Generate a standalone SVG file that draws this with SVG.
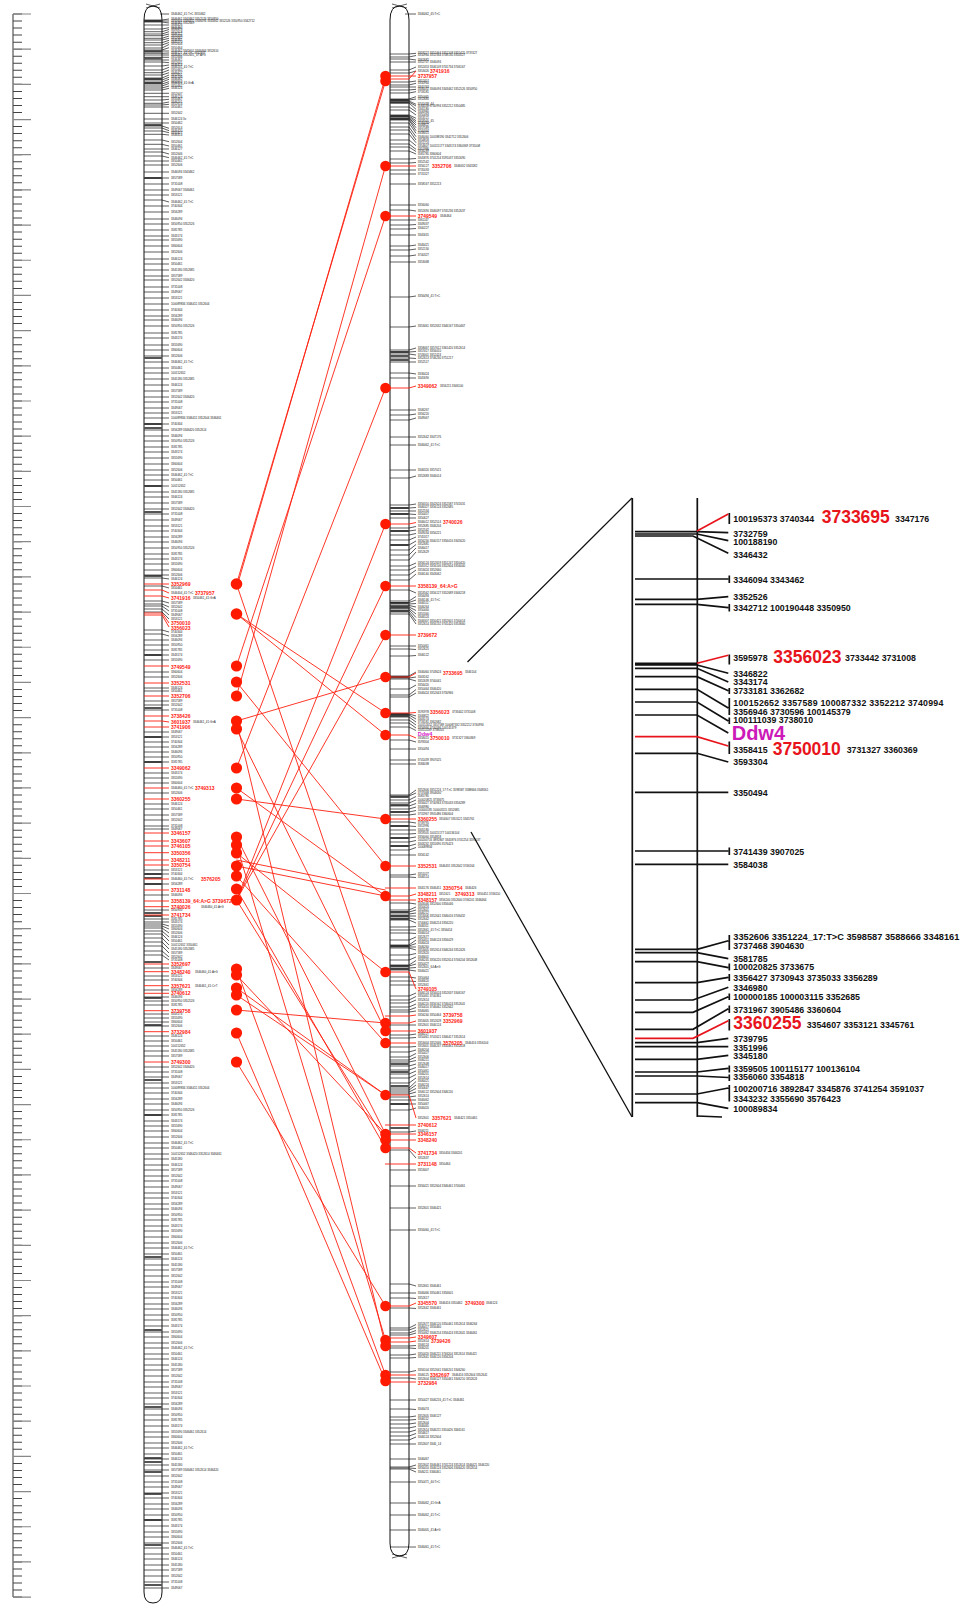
<svg xmlns="http://www.w3.org/2000/svg" width="972" height="1604" viewBox="0 0 972 1604">
<style>
.chr{fill:#fff;stroke:#111;stroke-width:1}
.bk{fill:none;stroke:#1a1a1a;stroke-width:0.7}
.dk{fill:none;stroke:#555;stroke-width:2.2}
.rb{fill:none;stroke:#ff2010;stroke-width:0.9}
.rc{fill:none;stroke:#ff2010;stroke-width:0.9}
.dot{fill:#ff1a00}
.t{font-family:"Liberation Sans",Arial,sans-serif;font-size:2.9px;fill:#1a1a1a}
.r{font-family:"Liberation Sans",Arial,sans-serif;font-size:5px;font-weight:bold;fill:#ff2010}
.pl{fill:none;stroke:#111;stroke-width:1.7}
.pr{fill:none;stroke:#e8141c;stroke-width:1.7}
.pt{font-family:"Liberation Sans",Arial,sans-serif;font-size:8.8px;font-weight:bold;fill:#111}
.pb{font-family:"Liberation Sans",Arial,sans-serif;font-size:17.5px;font-weight:bold;fill:#e8141c}
</style>

<g id="ruler">
<line x1="13" y1="14" x2="13" y2="1597" stroke="#333" stroke-width="1"/>
<line x1="17.5" y1="13.5" x2="17.5" y2="1598" stroke="#444" stroke-width="9" stroke-dasharray="1 6.036"/>
<line x1="22" y1="13.4" x2="22" y2="1598" stroke="#888" stroke-width="18" stroke-dasharray="1.2 33.98"/>
</g>

<g id="chromosome-left">
<path class="chr" d="M144,1592 V20 Q144,6 153,6 Q162,6 162,20 V1592 Q162,1603 153,1603 Q144,1603 144,1592 Z"/>
<path class="bk" d="M146,4 L160,8 M146,8 L160,4"/>
<path class="dk" d="M144 21H162M144 51.5H162M144 58.5H162M144 79H162M144 83H162M144 125H162M144 178H162M144 358H162M144 424H162M144 428H162M144 486H162M144 512H162M144 576H162M144 655H162M144 708H162M144 737H162M144 762H162M144 874H162M144 878H162M144 884H162M144 913H162M144 916H162M144 962H162M144 998H162M144 1025H162M144 1080H162M144 1115H162M144 1257H162M144 1330H162M144 1407H162M144 1458H162M144 1462H162M144 1472H162M144 1494H162M144 1520H162M144 1545H162M144 1585H162"/>
<path class="bk" d="M160 14H169M144 20H162L169 19M144 21H169M144 22H162L169 23M144 25H169M144 29H162L169 27.7M144 31.7H162L169 29.5M144 34H162L169 31.7M144 35.7H162L169 34M144 38.3H162L169 36M144 40H162L169 38.3M144 42.7H162L169 40.3M144 45H162L169 42.5M144 48H162L169 44.5M144 50H162L169 47.7M144 51H169M144 53.3H162L169 53M144 55H169M144 57.3H169M144 60H169M144 62H162L169 62.7M144 66H162L169 65M144 70H162L169 67.3M144 72.7H162L169 70M144 75H162L169 72.7M144 78H162L169 75M144 80H162L169 77.3M144 82H162L169 79.3M144 84H162L169 81.7M144 86H162L169 83.5M144 88H162L169 86M144 90H162L169 88.3M144 93.3H169M144 96.7H169M144 100H162L169 99.3M144 103.3H162L169 102M144 105H162L169 104.3M144 107H169M144 113.3H169M144 119H169M144 123H169M144 126H162L169 128.3M144 128H162L169 130.7M144 131H162L169 132.7M144 134.3H162L169 135M144 140H162L169 141.7M144 144.3H162L169 146M144 149H169M144 152H162L169 154M144 156H162L169 157.7M144 161H169M144 165H169M144 172H169M144 178H169M144 184H169M144 190H169M144 195H169M144 200H162L169 202M144 206H169M144 212H169M144 219H169M144 224H169M144 230H169M144 236H169M144 240H169M144 246H169M144 252H169M144 259H169M144 264H169M144 270H169M144 276H169M144 280H169M144 287H169M144 292H169M144 298H169M144 304H169M144 310H169M144 316H169M144 320H169M144 326H169M144 333H169M144 338H169M144 345H169M144 350H169M144 356H169M144 362H169M144 368H169M144 373H169M144 379H169M144 385H169M144 391H169M144 397H169M144 402H169M144 408H169M144 413H169M144 418H169M144 424H169M144 430H169M144 436H169M144 441H169M144 447H169M144 452H169M144 458H169M144 464H169M144 470H169M144 475H169M144 480H169M144 486H169M144 492H169M144 497H169M144 503H169M144 509H169M144 514H169M144 520H169M144 526H169M144 531H169M144 537H169M144 542H169M144 548H169M144 554H169M144 559H169M144 564H169M144 570H169M144 575H169M144 578H162L169 579M144 586H162L169 588M144 601H162L169 603M144 604H162L169 607M144 606H162L169 611M144 609H162L169 615M144 612H162L169 619M144 630H162L169 632M144 634H162L169 636M144 640H169M144 645H169M144 650H169M144 655H169M144 660H169M144 672H169M144 677H169M144 688H169M144 691H169M144 701H169M144 705H169M144 710H169M144 732H169M144 737H169M144 742H169M144 747H169M144 752H169M144 757H169M144 762H169M144 773H169M144 778H169M144 783H169M144 793H169M144 804H169M144 809H169M144 815H169M144 820H169M144 826H169M144 829H169M144 870H169M144 874H169M144 884H169M144 895H169M144 910H169M144 919H169M144 922H169M144 924H162L169 926M144 926H162L169 929M144 928H162L169 933M144 931H162L169 937M144 934H162L169 941M144 938H162L169 945M144 942H162L169 949M144 946H162L169 953M144 951H162L169 957M144 955H162L169 960M144 968H169M144 976H169M144 980H169M144 990H169M144 997H169M144 1001H169M144 1005H169M144 1014H169M144 1018H169M144 1022H169M144 1026H169M144 1036H169M144 1041H169M144 1046H169M144 1051H169M144 1056H169M144 1067H169M144 1072H169M144 1077H169M144 1083H169M144 1088H169M144 1093H169M144 1099H169M144 1104H169M144 1110H169M144 1115H169M144 1121H169M144 1126H169M144 1131H169M144 1137H169M144 1143H169M144 1148H169M144 1154H169M144 1159H169M144 1165H169M144 1170H169M144 1176H169M144 1181H169M144 1187H169M144 1193H169M144 1198H169M144 1204H169M144 1209H169M144 1215H169M144 1220H169M144 1226H169M144 1231H169M144 1237H169M144 1243H169M144 1248H169M144 1254H169M144 1259H169M144 1265H169M144 1270H169M144 1276H169M144 1282H169M144 1287H169M144 1293H169M144 1298H169M144 1304H169M144 1309H169M144 1315H169M144 1320H169M144 1326H169M144 1332H169M144 1337H169M144 1343H169M144 1348H169M144 1354H169M144 1359H169M144 1365H169M144 1370H169M144 1376H169M144 1382H169M144 1387H169M144 1393H169M144 1398H169M144 1404H169M144 1409H169M144 1415H169M144 1420H169M144 1426H169M144 1432H169M144 1437H169M144 1443H169M144 1448H169M144 1454H169M144 1459H169M144 1465H169M144 1470H169M144 1476H169M144 1482H169M144 1487H169M144 1493H169M144 1498H169M144 1504H169M144 1509H169M144 1515H169M144 1520H169M144 1526H169M144 1532H169M144 1537H169M144 1543H169M144 1548H169M144 1554H169M144 1559H169M144 1565H169M144 1570H169M144 1576H169M144 1582H169M144 1588H169"/>
<path class="rb" d="M144 584H169M144 590H162L169 593M144 596H162L169 598M144 613H162L169 623M144 615H162L169 627M144 666H169M144 683H169M144 696H169M144 716H169M144 721H162L169 722M144 727H169M144 768H169M144 788H169M144 799H169M144 833H169M144 841H169M144 846H169M144 852.7H169M144 860H169M144 865H169M144 879H169M144 890H169M144 901H169M144 906.7H169M144 915H169M144 964H169M144 971.7H169M144 985.7H169M144 993.3H169M144 1010.7H169M144 1031.7H169M144 1062H169"/>
<text class="t"><tspan x="171" y="14.9">3346462_41:T&gt;C 3353462</tspan><tspan x="171" y="19.9">3346461 3343462 3352526 3350950</tspan><tspan x="171" y="21.9">3350644 3346432 3346094 3343462 3352526 3350950 3342712</tspan><tspan x="171" y="23.9">3346461 3352669</tspan><tspan x="171" y="25.9">3346426</tspan><tspan x="171" y="28.6">3346462</tspan><tspan x="171" y="30.4">3350470</tspan><tspan x="171" y="32.6">3352618</tspan><tspan x="171" y="34.9">3346112</tspan><tspan x="171" y="36.9">3350448</tspan><tspan x="171" y="39.2">3352642</tspan><tspan x="171" y="41.2">3346461</tspan><tspan x="171" y="43.4">3345570</tspan><tspan x="171" y="45.4">3352604</tspan><tspan x="171" y="48.6">3350464</tspan><tspan x="171" y="51.9">3346462 3345601 3346464 3352610</tspan><tspan x="171" y="53.9">3346127_41:T&gt;C 3352647</tspan><tspan x="171" y="55.9">3346461 3352601_47:A&gt;G</tspan><tspan x="171" y="58.2">3352646</tspan><tspan x="171" y="60.9">3346461</tspan><tspan x="171" y="63.6">3352641</tspan><tspan x="171" y="65.9">3346414</tspan><tspan x="171" y="68.2">3346201_41:T&gt;C</tspan><tspan x="171" y="70.9">3350462</tspan><tspan x="171" y="73.6">3346427</tspan><tspan x="171" y="75.9">3352601</tspan><tspan x="171" y="78.2">3345106</tspan><tspan x="171" y="80.2">3346462</tspan><tspan x="171" y="82.6">3352612</tspan><tspan x="171" y="84.4">3346424_41:G&gt;A</tspan><tspan x="171" y="86.9">3350461</tspan><tspan x="171" y="89.2">3346124</tspan><tspan x="171" y="94.6">3352647</tspan><tspan x="171" y="97.6">3346124</tspan><tspan x="171" y="100.2">3350467</tspan><tspan x="171" y="102.9">3346201</tspan><tspan x="171" y="105.2">3352614</tspan><tspan x="171" y="108.2">3350461</tspan><tspan x="171" y="114.2">3352642</tspan><tspan x="171" y="119.9">3346124 3x</tspan><tspan x="171" y="124.2">3350462</tspan><tspan x="171" y="129.2">3352614</tspan><tspan x="171" y="131.6">3346420</tspan><tspan x="171" y="133.6">3350427</tspan><tspan x="171" y="135.9">3346414</tspan><tspan x="171" y="142.6">3352604</tspan><tspan x="171" y="146.9">3350461</tspan><tspan x="171" y="149.9">3346127</tspan><tspan x="171" y="154.9">3352646</tspan><tspan x="171" y="158.6">3346462_41:T&gt;C</tspan><tspan x="171" y="161.9">3350461</tspan><tspan x="171" y="165.9">3352606</tspan><tspan x="171" y="172.9">3346094 3343462</tspan><tspan x="171" y="178.9">3357589</tspan><tspan x="171" y="184.9">3731008</tspan><tspan x="171" y="190.9">3349067 3346461</tspan><tspan x="171" y="195.9">3353121</tspan><tspan x="171" y="202.9">3346462_41:T&gt;C</tspan><tspan x="171" y="206.9">3740344</tspan><tspan x="171" y="212.9">3356289</tspan><tspan x="171" y="219.9">3346094</tspan><tspan x="171" y="224.9">3350950 3352526</tspan><tspan x="171" y="230.9">3581785</tspan><tspan x="171" y="236.9">3343174</tspan><tspan x="171" y="240.9">3355690</tspan><tspan x="171" y="246.9">3360604</tspan><tspan x="171" y="252.9">3352606</tspan><tspan x="171" y="259.9">3346124</tspan><tspan x="171" y="264.9">3350461</tspan><tspan x="171" y="270.9">3345180 3352685</tspan><tspan x="171" y="276.9">3357589</tspan><tspan x="171" y="280.9">3352642 3346420</tspan><tspan x="171" y="287.9">3731008</tspan><tspan x="171" y="292.9">3349067</tspan><tspan x="171" y="298.9">3353121</tspan><tspan x="171" y="304.9">100089834 3346411 3352604</tspan><tspan x="171" y="310.9">3740344</tspan><tspan x="171" y="316.9">3356289</tspan><tspan x="171" y="320.9">3346094</tspan><tspan x="171" y="326.9">3350950 3352526</tspan><tspan x="171" y="333.9">3581785</tspan><tspan x="171" y="338.9">3343174</tspan><tspan x="171" y="345.9">3355690</tspan><tspan x="171" y="350.9">3360604</tspan><tspan x="171" y="356.9">3352606</tspan><tspan x="171" y="362.9">3346462_41:T&gt;C</tspan><tspan x="171" y="368.9">3350461</tspan><tspan x="171" y="373.9">100152652</tspan><tspan x="171" y="379.9">3345180 3352685</tspan><tspan x="171" y="385.9">3346124</tspan><tspan x="171" y="391.9">3357589</tspan><tspan x="171" y="397.9">3352642 3346420</tspan><tspan x="171" y="402.9">3731008</tspan><tspan x="171" y="408.9">3349067</tspan><tspan x="171" y="413.9">3353121</tspan><tspan x="171" y="418.9">100089834 3346411 3352604 3346461</tspan><tspan x="171" y="424.9">3740344</tspan><tspan x="171" y="430.9">3356289 3346420 3352614</tspan><tspan x="171" y="436.9">3346094</tspan><tspan x="171" y="441.9">3350950 3352526</tspan><tspan x="171" y="447.9">3581785</tspan><tspan x="171" y="452.9">3343174</tspan><tspan x="171" y="458.9">3355690</tspan><tspan x="171" y="464.9">3360604</tspan><tspan x="171" y="470.9">3352606</tspan><tspan x="171" y="475.9">3346462_41:T&gt;C</tspan><tspan x="171" y="480.9">3350461</tspan><tspan x="171" y="486.9">100152652</tspan><tspan x="171" y="492.9">3345180 3352685</tspan><tspan x="171" y="497.9">3346124</tspan><tspan x="171" y="503.9">3357589</tspan><tspan x="171" y="509.9">3352642 3346420</tspan><tspan x="171" y="514.9">3731008</tspan><tspan x="171" y="520.9">3349067</tspan><tspan x="171" y="526.9">3353121</tspan><tspan x="171" y="531.9">3740344</tspan><tspan x="171" y="537.9">3356289</tspan><tspan x="171" y="542.9">3346094</tspan><tspan x="171" y="548.9">3350950 3352526</tspan><tspan x="171" y="554.9">3581785</tspan><tspan x="171" y="559.9">3343174</tspan><tspan x="171" y="564.9">3355690</tspan><tspan x="171" y="570.9">3360604</tspan><tspan x="171" y="575.9">3352606</tspan><tspan x="171" y="579.9">3346124</tspan><tspan x="171" y="588.9">3350461</tspan><tspan x="171" y="593.9">3346404_41:T&gt;C</tspan><tspan x="193" y="598.9">3350461_41:G&gt;A</tspan><tspan x="171" y="603.9">3357589</tspan><tspan x="171" y="607.9">3352642</tspan><tspan x="171" y="611.9">3731008</tspan><tspan x="171" y="615.9">3349067</tspan><tspan x="171" y="619.9">3353121</tspan><tspan x="171" y="632.9">3740344</tspan><tspan x="171" y="636.9">3356289</tspan><tspan x="171" y="640.9">3346094</tspan><tspan x="171" y="645.9">3350950</tspan><tspan x="171" y="650.9">3581785</tspan><tspan x="171" y="655.9">3343174</tspan><tspan x="171" y="660.9">3355690</tspan><tspan x="171" y="672.9">3360604</tspan><tspan x="171" y="677.9">3352606</tspan><tspan x="171" y="688.9">3346124</tspan><tspan x="171" y="691.9">3350461</tspan><tspan x="171" y="701.9">3357589</tspan><tspan x="171" y="705.9">3352642</tspan><tspan x="171" y="710.9">3731008</tspan><tspan x="193" y="722.9">3346461_41:G&gt;A</tspan><tspan x="171" y="732.9">3349067</tspan><tspan x="171" y="737.9">3353121</tspan><tspan x="171" y="742.9">3740344</tspan><tspan x="171" y="747.9">3356289</tspan><tspan x="171" y="752.9">3346094</tspan><tspan x="171" y="757.9">3350950</tspan><tspan x="171" y="762.9">3581785</tspan><tspan x="171" y="773.9">3343174</tspan><tspan x="171" y="778.9">3355690</tspan><tspan x="171" y="783.9">3360604</tspan><tspan x="171" y="788.9">3346460_41:T&gt;C</tspan><tspan x="171" y="793.9">3352606</tspan><tspan x="171" y="804.9">3346124</tspan><tspan x="171" y="809.9">3350461</tspan><tspan x="171" y="815.9">3357589</tspan><tspan x="171" y="820.9">3352642</tspan><tspan x="171" y="826.9">3731008</tspan><tspan x="171" y="829.9">3349067</tspan><tspan x="171" y="870.9">3353121</tspan><tspan x="171" y="874.9">3740344</tspan><tspan x="171" y="879.9">3346460_41:T&gt;C</tspan><tspan x="171" y="884.9">3356289</tspan><tspan x="171" y="895.9">3346094</tspan><tspan x="201" y="907.6">3346460_41:A&gt;G</tspan><tspan x="171" y="910.9">3350950</tspan><tspan x="171" y="919.9">3581785</tspan><tspan x="171" y="922.9">3343174</tspan><tspan x="171" y="926.9">3355690</tspan><tspan x="171" y="929.9">3360604</tspan><tspan x="171" y="933.9">3352606</tspan><tspan x="171" y="937.9">3346124</tspan><tspan x="171" y="941.9">3350461</tspan><tspan x="171" y="945.9">100152652 3350461</tspan><tspan x="171" y="949.9">3345180 3352685</tspan><tspan x="171" y="953.9">3357589</tspan><tspan x="171" y="957.9">3352642</tspan><tspan x="171" y="960.9">3731008</tspan><tspan x="171" y="968.9">3349067</tspan><tspan x="195" y="972.6">3346460_41:A&gt;G</tspan><tspan x="171" y="976.9">3353121</tspan><tspan x="171" y="980.9">3740344</tspan><tspan x="195" y="986.6">3346461_41:C&gt;T</tspan><tspan x="171" y="990.9">3356289</tspan><tspan x="171" y="997.9">3346094</tspan><tspan x="171" y="1001.9">3350950 3352526</tspan><tspan x="171" y="1005.9">3581785</tspan><tspan x="171" y="1014.9">3343174</tspan><tspan x="171" y="1018.9">3355690</tspan><tspan x="171" y="1022.9">3360604</tspan><tspan x="171" y="1026.9">3352606</tspan><tspan x="171" y="1036.9">3346124</tspan><tspan x="171" y="1041.9">3350461</tspan><tspan x="171" y="1046.9">100152652</tspan><tspan x="171" y="1051.9">3345180 3352685</tspan><tspan x="171" y="1056.9">3357589</tspan><tspan x="171" y="1067.9">3352642 3346420</tspan><tspan x="171" y="1072.9">3731008</tspan><tspan x="171" y="1077.9">3349067</tspan><tspan x="171" y="1083.9">3353121</tspan><tspan x="171" y="1088.9">100089834 3346411 3352604</tspan><tspan x="171" y="1093.9">3740344</tspan><tspan x="171" y="1099.9">3356289</tspan><tspan x="171" y="1104.9">3346094</tspan><tspan x="171" y="1110.9">3350950 3352526</tspan><tspan x="171" y="1115.9">3581785</tspan><tspan x="171" y="1121.9">3343174</tspan><tspan x="171" y="1126.9">3355690</tspan><tspan x="171" y="1131.9">3360604</tspan><tspan x="171" y="1137.9">3352606</tspan><tspan x="171" y="1143.9">3346462_41:T&gt;C</tspan><tspan x="171" y="1148.9">3350461</tspan><tspan x="171" y="1154.9">100152652 3346420 3352614 3346461</tspan><tspan x="171" y="1159.9">3345180</tspan><tspan x="171" y="1165.9">3346124</tspan><tspan x="171" y="1170.9">3357589</tspan><tspan x="171" y="1176.9">3352642</tspan><tspan x="171" y="1181.9">3731008</tspan><tspan x="171" y="1187.9">3349067</tspan><tspan x="171" y="1193.9">3353121</tspan><tspan x="171" y="1198.9">3740344</tspan><tspan x="171" y="1204.9">3356289</tspan><tspan x="171" y="1209.9">3346094</tspan><tspan x="171" y="1215.9">3350950</tspan><tspan x="171" y="1220.9">3581785</tspan><tspan x="171" y="1226.9">3343174</tspan><tspan x="171" y="1231.9">3355690</tspan><tspan x="171" y="1237.9">3360604</tspan><tspan x="171" y="1243.9">3352606</tspan><tspan x="171" y="1248.9">3346462_41:T&gt;C</tspan><tspan x="171" y="1254.9">3350461</tspan><tspan x="171" y="1259.9">3346124</tspan><tspan x="171" y="1265.9">3345180</tspan><tspan x="171" y="1270.9">3357589</tspan><tspan x="171" y="1276.9">3352642</tspan><tspan x="171" y="1282.9">3731008</tspan><tspan x="171" y="1287.9">3349067</tspan><tspan x="171" y="1293.9">3353121</tspan><tspan x="171" y="1298.9">3740344</tspan><tspan x="171" y="1304.9">3356289</tspan><tspan x="171" y="1309.9">3346094</tspan><tspan x="171" y="1315.9">3350950</tspan><tspan x="171" y="1320.9">3581785</tspan><tspan x="171" y="1326.9">3343174</tspan><tspan x="171" y="1332.9">3355690</tspan><tspan x="171" y="1337.9">3360604</tspan><tspan x="171" y="1343.9">3352606</tspan><tspan x="171" y="1348.9">3346462_41:T&gt;C</tspan><tspan x="171" y="1354.9">3350461</tspan><tspan x="171" y="1359.9">3346124</tspan><tspan x="171" y="1365.9">3345180</tspan><tspan x="171" y="1370.9">3357589</tspan><tspan x="171" y="1376.9">3352642</tspan><tspan x="171" y="1382.9">3731008</tspan><tspan x="171" y="1387.9">3349067</tspan><tspan x="171" y="1393.9">3353121</tspan><tspan x="171" y="1398.9">3740344</tspan><tspan x="171" y="1404.9">3356289</tspan><tspan x="171" y="1409.9">3346094</tspan><tspan x="171" y="1415.9">3350950</tspan><tspan x="171" y="1420.9">3581785</tspan><tspan x="171" y="1426.9">3343174</tspan><tspan x="171" y="1432.9">3355690 3346461 3352614</tspan><tspan x="171" y="1437.9">3360604</tspan><tspan x="171" y="1443.9">3352606</tspan><tspan x="171" y="1448.9">3346462_41:T&gt;C</tspan><tspan x="171" y="1454.9">3350461</tspan><tspan x="171" y="1459.9">3346124</tspan><tspan x="171" y="1465.9">3345180</tspan><tspan x="171" y="1470.9">3357589 3346461 3352614 3346420</tspan><tspan x="171" y="1476.9">3352642</tspan><tspan x="171" y="1482.9">3731008</tspan><tspan x="171" y="1487.9">3349067</tspan><tspan x="171" y="1493.9">3353121</tspan><tspan x="171" y="1498.9">3740344</tspan><tspan x="171" y="1504.9">3356289</tspan><tspan x="171" y="1509.9">3346094</tspan><tspan x="171" y="1515.9">3350950</tspan><tspan x="171" y="1520.9">3581785</tspan><tspan x="171" y="1526.9">3343174</tspan><tspan x="171" y="1532.9">3355690</tspan><tspan x="171" y="1537.9">3360604</tspan><tspan x="171" y="1543.9">3352606</tspan><tspan x="171" y="1548.9">3346462_41:T&gt;C</tspan><tspan x="171" y="1554.9">3350461</tspan><tspan x="171" y="1559.9">3346124</tspan><tspan x="171" y="1565.9">3345180</tspan><tspan x="171" y="1570.9">3357589</tspan><tspan x="171" y="1576.9">3352642</tspan><tspan x="171" y="1582.9">3731008</tspan><tspan x="171" y="1588.9">3349067</tspan></text>
<text class="r"><tspan x="171" y="585.8">3352969</tspan><tspan x="195" y="594.8">3737957</tspan><tspan x="171" y="599.8">3741916</tspan><tspan x="171" y="624.8">3750010</tspan><tspan x="171" y="629.8">3356023</tspan><tspan x="171" y="668.8">3749549</tspan><tspan x="171" y="684.8">3352531</tspan><tspan x="171" y="697.8">3352706</tspan><tspan x="171" y="717.8">3738426</tspan><tspan x="171" y="723.8">3601937</tspan><tspan x="171" y="728.8">3741906</tspan><tspan x="171" y="769.8">3349062</tspan><tspan x="195" y="789.8">3749313</tspan><tspan x="171" y="800.8">3360255</tspan><tspan x="171" y="834.8">3346157</tspan><tspan x="171" y="842.8">3343607</tspan><tspan x="171" y="847.8">3746105</tspan><tspan x="171" y="854.5">3350356</tspan><tspan x="171" y="861.8">3348211</tspan><tspan x="171" y="866.8">3350754</tspan><tspan x="201" y="880.8">3576205</tspan><tspan x="171" y="891.8">3731148</tspan><tspan x="171" y="902.8">3358139_64:A&gt;G 3739672</tspan><tspan x="171" y="908.5">3740026</tspan><tspan x="171" y="916.8">3741734</tspan><tspan x="171" y="965.8">3352697</tspan><tspan x="171" y="973.5">3348240</tspan><tspan x="171" y="987.5">3357621</tspan><tspan x="171" y="995.1">3740612</tspan><tspan x="171" y="1012.5">3739758</tspan><tspan x="171" y="1033.5">3732984</tspan><tspan x="171" y="1063.8">3749300</tspan></text>
</g>

<g id="chromosome-middle">
<path class="chr" d="M390,1543 V20 Q390,6 399.5,6 Q409,6 409,20 V1543 Q409,1556 399.5,1556 Q390,1556 390,1543 Z"/>
<path class="bk" d="M392,4 L407,8 M392,8 L407,4 M392,1554 L407,1558 M392,1558 L407,1554"/>
<path class="dk" d="M390 100H409M390 102.5H409M390 116H409M390 119H409M390 352H409M390 356H409M390 360H409M390 508H409M390 514H409M390 531H409M390 545H409M390 603H409M390 607H409M390 611H409M390 677H409M390 714H409M390 716H409M390 797H409M390 805H409M390 812H409M390 826H409M390 838H409M390 846H409M390 912H409M390 916H409M390 919H409M390 946H409M390 966H409M390 969H409M390 1064H409M390 1072H409M390 1086H409M390 1104H409M390 1128H409"/>
<path class="bk" d="M405 14H416M390 54H409L416 53.3M390 57H409L416 55.5M390 59H409L416 60M390 62H416M390 70H409L416 67M390 73H409L416 71M390 82H409L416 81M390 85H409L416 83.3M390 87H416M390 90H409L416 89.3M390 93H409L416 91.7M390 99H409L416 96.7M390 100H409L416 99M390 101H409L416 104.3M390 102H409L416 106M390 103H409L416 109.3M390 107H409L416 111.7M390 110H409L416 115M390 115H409L416 118.3M390 116H409L416 120.7M390 117H409L416 122.7M390 118H409L416 125M390 119H409L416 127.7M390 120H409L416 130.7M390 123H409L416 133.3M390 127H409L416 136.7M390 130H409L416 140M390 134H409L416 142.7M390 140H409L416 145.7M390 144H409L416 149.3M390 147H409L416 151.5M390 151H409L416 154M390 159H409L416 158.5M390 163H409L416 162.5M390 170H416M390 174H416M390 184H416M390 205H416M390 210H409L416 211M390 220H416M390 225H409L416 224.5M390 229H409L416 228.5M390 235H416M390 246H409L416 245M390 250H409L416 249M390 256H409L416 255M390 262H416M390 297H409L416 296M390 327H409L416 326M390 350H409L416 348M390 352H409L416 351.5M390 354H409L416 355M390 358H409L416 358.5M390 362H416M390 373H409L416 374M390 378H416M390 410H416M390 415H409L416 414M390 420H409L416 418M390 437H416M390 445H416M390 470H416M390 478H409L416 476M390 505H409L416 504M390 508H409L416 507.5M390 511H416M390 514H409L416 514.5M390 518H416M390 528H409L416 526.5M390 531H409L416 530M390 535H409L416 533.5M390 540H409L416 537M390 545H409L416 541M390 550H409L416 544.5M390 555H409L416 548M390 560H409L416 552M390 566H409L416 563M390 570H409L416 566.5M390 575H409L416 570M390 580H409L416 574M390 590H409L416 593M390 601H409L416 596.5M390 602.5H409L416 600M390 604H409L416 603.5M390 605.5H409L416 607M390 607H409L416 610.5M390 608.5H409L416 614M390 610H409L416 617.5M390 612H409L416 621M390 614H409L416 624M390 646H416M390 649H409L416 649.5M390 656H409L416 655.5M390 676H409L416 672M390 678H409L416 677M390 679H409L416 681M390 689H409L416 685M390 695H409L416 689.5M390 697H409L416 693M390 714H409L416 716M390 715H409L416 719M390 717H409L416 722M390 720H409L416 725M390 723H409L416 728M390 727H409L416 730.5M390 740H409L416 742M390 749H416M390 760H416M390 764H416M390 795H409L416 790M390 796H409L416 793M390 800H409L416 796.5M390 803H409L416 800M390 806H409L416 803.5M390 809H409L416 807M390 812H409L416 810.5M390 815H409L416 814M390 822H409L416 823M390 826H409L416 826.5M390 830H416M390 834H409L416 833.5M390 838H409L416 837M390 842H409L416 840.5M390 846H409L416 844M390 850H409L416 847.5M390 855H416M390 875H409L416 874M390 877H409L416 877.5M390 903H409L416 904M390 910H409L416 907M390 912H409L416 910M390 914H409L416 913M390 916H416M390 918H409L416 919.5M390 920H409L416 923M390 927H409L416 926.5M390 930H416M390 933H409L416 933.5M390 940H409L416 937M390 945H409L416 940M390 946H409L416 943.5M390 947H416M390 948H409L416 950M390 955H409L416 953.5M390 960H409L416 957M390 965H409L416 960.5M390 966H409L416 964M390 968H409L416 967.5M390 970H409L416 971M390 977H409L416 978M390 981H409L416 981.5M390 985H416M390 996H409L416 993M390 1000H409L416 996.5M390 1003H409L416 1000M390 1007H409L416 1004M390 1010H409L416 1007.5M390 1012H409L416 1011M390 1025H416M390 1035H409L416 1034M390 1038H409L416 1037.5M390 1047H409L416 1046.5M390 1052H409L416 1050M390 1057H409L416 1053.5M390 1060H409L416 1057M390 1062H409L416 1060.5M390 1066H409L416 1064M390 1070H409L416 1067.5M390 1074H409L416 1071M390 1078H409L416 1074.5M390 1083H409L416 1078M390 1088H409L416 1081.5M390 1090H409L416 1085M390 1092H409L416 1088.5M390 1094H409L416 1092M390 1097H409L416 1096M390 1100H416M390 1104H416M390 1110H409L416 1108M390 1132H409L416 1131M390 1150H409L416 1158M390 1170H416M390 1186H416M390 1208H416M390 1230H416M390 1284H409L416 1286M390 1293H416M390 1298H409L416 1298.5M390 1308H409L416 1308.5M390 1328H409L416 1324.5M390 1330H409L416 1327.5M390 1333H409L416 1330.5M390 1335H409L416 1333M390 1346H409L416 1345.5M390 1348H409L416 1348.5M390 1355H409L416 1354M390 1358H409L416 1357.5M390 1372H409L416 1370.5M390 1378H409L416 1379M390 1400H416M390 1409H409L416 1409.5M390 1417H409L416 1416M390 1420H409L416 1419.5M390 1424H409L416 1423M390 1428H409L416 1426.5M390 1432H409L416 1430M390 1436H409L416 1433.5M390 1440H409L416 1437M390 1444H416M390 1459H416M390 1467H409L416 1465M390 1468H409L416 1468.5M390 1469H409L416 1472M390 1482H416M390 1503H416M390 1515H416M390 1530H416M390 1547H416"/>
<path class="rb" d="M385 76H409L416 76M385 79H409L416 71M385 166H416M385 216H416M385 388H409L416 386M385 524H409L416 522.5M385 586H416M385 635H416M385 677H409L416 673M385 713H409L416 712.5M385 735H409L416 738M385 819H416M385 866H416M385 888H409L416 888M385 896H409L416 894M385 900H416M385 972H409L416 989M385 1016H409L416 1015M385 1023H409L416 1021M385 1031H416M385 1043H416M385 1095H409L416 1118M385 1125H416M385 1134H416M385 1140H416M385 1148H409L416 1153M385 1164H416M385 1306H409L416 1303M385 1338H409L416 1337M385 1342H409L416 1341M385 1375H416M385 1382H416"/>
<text class="t"><tspan x="417.7" y="14.9">3346462_45:T&gt;C</tspan><tspan x="417.7" y="54.2">3359227 3352464 3352108 3355425 3737427</tspan><tspan x="417.7" y="56.4">3350964 3352564 3748130 3350527</tspan><tspan x="417.7" y="60.9">3362682</tspan><tspan x="417.7" y="62.9">3352707 3346094</tspan><tspan x="417.7" y="67.9">3352453 3346109 3741734 3746167</tspan><tspan x="417.7" y="71.9">3353426</tspan><tspan x="417.7" y="81.9">3352457</tspan><tspan x="417.7" y="84.2">3350964</tspan><tspan x="417.7" y="88.2">3345763</tspan><tspan x="417.7" y="90.2">3346432 3346094 3343462 3352526 3350950</tspan><tspan x="417.7" y="92.6">3733181</tspan><tspan x="417.7" y="97.6">3350465</tspan><tspan x="417.7" y="99.9">3352685</tspan><tspan x="417.7" y="105.2">3741439_44</tspan><tspan x="417.7" y="106.9">3584038 3740994 3352212 3350485</tspan><tspan x="417.7" y="110.2">3345180</tspan><tspan x="417.7" y="112.6">3346980</tspan><tspan x="417.7" y="115.9">3350494</tspan><tspan x="417.7" y="119.2">3353121</tspan><tspan x="417.7" y="121.6">3359505_45</tspan><tspan x="417.7" y="123.6">3746430</tspan><tspan x="417.7" y="125.9">3346822</tspan><tspan x="417.7" y="128.6">3357589</tspan><tspan x="417.7" y="131.6">3740344</tspan><tspan x="417.7" y="134.2">3358415</tspan><tspan x="417.7" y="137.6">3346060 100188190 3342712 3352606</tspan><tspan x="417.7" y="140.9">3354818</tspan><tspan x="417.7" y="143.6">3351224</tspan><tspan x="417.7" y="146.6">3354607 100115177 3343174 3360369 3731008</tspan><tspan x="417.7" y="150.2">3351996</tspan><tspan x="417.7" y="152.4">3356289</tspan><tspan x="417.7" y="154.9">3581785 3360604</tspan><tspan x="417.7" y="159.4">3345876 3741254 3591037 3355690</tspan><tspan x="417.7" y="163.4">3352542</tspan><tspan x="417.7" y="166.9">3356127</tspan><tspan x="454" y="166.9">3346632 3343182</tspan><tspan x="417.7" y="170.9">3735033</tspan><tspan x="417.7" y="174.9">3731327</tspan><tspan x="417.7" y="184.9">3358167 3352213</tspan><tspan x="417.7" y="205.9">3356060</tspan><tspan x="417.7" y="211.9">3352690 3346097 3745236 3352637</tspan><tspan x="440" y="216.9">3346464</tspan><tspan x="417.7" y="220.9">3361147</tspan><tspan x="417.7" y="225.4">3349037</tspan><tspan x="417.7" y="229.4">3340227</tspan><tspan x="417.7" y="235.9">3345631</tspan><tspan x="417.7" y="245.9">3346421</tspan><tspan x="417.7" y="249.9">3352130</tspan><tspan x="417.7" y="255.9">3740327</tspan><tspan x="417.7" y="262.9">3353068</tspan><tspan x="417.7" y="296.9">3356494_41:T&gt;C</tspan><tspan x="417.7" y="326.9">3353461 3352632 3346167 3350467</tspan><tspan x="417.7" y="348.9">3358467 3357612 3361420 3352614</tspan><tspan x="417.7" y="352.4">3357417 3356010</tspan><tspan x="417.7" y="355.9">3743001 3352424</tspan><tspan x="417.7" y="359.4">3352613 3746230 3751217</tspan><tspan x="417.7" y="362.9">3352517</tspan><tspan x="417.7" y="374.9">3336424</tspan><tspan x="417.7" y="378.9">3345690</tspan><tspan x="440" y="386.9">3356211 3346100</tspan><tspan x="417.7" y="410.9">3346267</tspan><tspan x="417.7" y="414.9">3356220</tspan><tspan x="417.7" y="418.9">3349067</tspan><tspan x="417.7" y="437.9">3352642 3347176</tspan><tspan x="417.7" y="445.9">3346462_41:T&gt;C</tspan><tspan x="417.7" y="470.9">3346320 3357021</tspan><tspan x="417.7" y="476.9">3352683 3346014</tspan><tspan x="417.7" y="504.9">3356310 3342624 3352587 3741631</tspan><tspan x="417.7" y="508.4">3346327 3356124 3352685</tspan><tspan x="417.7" y="511.9">3352534</tspan><tspan x="417.7" y="515.4">3350457</tspan><tspan x="417.7" y="518.9">3350627</tspan><tspan x="417.7" y="523.4">3346012 3352514</tspan><tspan x="417.7" y="527.4">3352685 3346204</tspan><tspan x="417.7" y="530.9">3352542</tspan><tspan x="417.7" y="534.4">3349034 3356221</tspan><tspan x="417.7" y="537.9">3745317</tspan><tspan x="417.7" y="541.9">3356230 3340157 3356016 3345620</tspan><tspan x="417.7" y="545.4">3352681</tspan><tspan x="417.7" y="548.9">3346417</tspan><tspan x="417.7" y="552.9">3352629</tspan><tspan x="417.7" y="563.9">3356124 3352659 3351247 3350420</tspan><tspan x="417.7" y="567.4">3345312 3356106 3352604 3356040</tspan><tspan x="417.7" y="570.9">3353424 3352660</tspan><tspan x="417.7" y="574.9">3346140 3343062</tspan><tspan x="417.7" y="593.9">3353562 3356127 3352689 3346218</tspan><tspan x="417.7" y="597.4">3356494</tspan><tspan x="417.7" y="600.9">3346146_41:T&gt;C</tspan><tspan x="417.7" y="604.4">3346511</tspan><tspan x="417.7" y="607.9">3346264</tspan><tspan x="417.7" y="611.4">3350440</tspan><tspan x="417.7" y="614.9">3355340</tspan><tspan x="417.7" y="618.4">3346524</tspan><tspan x="417.7" y="621.9">3346307 3350421 3352601 3740014</tspan><tspan x="417.7" y="624.9">3352614 3356132 3741420 3353660</tspan><tspan x="417.7" y="646.9">3350461</tspan><tspan x="417.7" y="650.4">3352625</tspan><tspan x="417.7" y="656.4">3346122</tspan><tspan x="417.7" y="672.9">3346460 3743624</tspan><tspan x="465" y="672.9">3346104</tspan><tspan x="417.7" y="677.9">3343162</tspan><tspan x="417.7" y="681.9">3352639 3740041</tspan><tspan x="417.7" y="685.9">3356420</tspan><tspan x="417.7" y="690.4">3350464 3346420</tspan><tspan x="417.7" y="693.9">3346424 3352643 3730966</tspan><tspan x="417.7" y="713.4">3595978</tspan><tspan x="452" y="713.4">3733442 3731008</tspan><tspan x="417.7" y="716.9">3346822</tspan><tspan x="417.7" y="719.9">3343174</tspan><tspan x="417.7" y="722.9">3733181 3362682</tspan><tspan x="417.7" y="725.9">100152652 3357589 100087332 3352212 3740994</tspan><tspan x="417.7" y="728.9">3356946 3730596 100145379</tspan><tspan x="417.7" y="731.4">100111039 3738010</tspan><tspan x="417.7" y="738.9">3358415</tspan><tspan x="452" y="738.9">3731327 3360369</tspan><tspan x="417.7" y="742.9">3593304</tspan><tspan x="417.7" y="749.9">3350494</tspan><tspan x="417.7" y="760.9">3741439 3907025</tspan><tspan x="417.7" y="764.9">3584038</tspan><tspan x="417.7" y="790.9">3352606 3351224_17:T&gt;C 3598587 3588666 3348161</tspan><tspan x="417.7" y="793.9">3737468 3904630</tspan><tspan x="417.7" y="797.4">3581785</tspan><tspan x="417.7" y="800.9">100020825 3733675</tspan><tspan x="417.7" y="804.4">3356427 3730943 3735033 3356289</tspan><tspan x="417.7" y="807.9">3346980</tspan><tspan x="417.7" y="811.4">100000185 100003115 3352685</tspan><tspan x="417.7" y="814.9">3731967 3905486 3360604</tspan><tspan x="439" y="819.9">3354607 3353121 3345761</tspan><tspan x="417.7" y="823.9">3739795</tspan><tspan x="417.7" y="827.4">3351996</tspan><tspan x="417.7" y="830.9">3345180</tspan><tspan x="417.7" y="834.4">3359505 100115177 100136104</tspan><tspan x="417.7" y="837.9">3356060 3354818</tspan><tspan x="417.7" y="841.4">100200716 3892847 3345876 3741254 3591037</tspan><tspan x="417.7" y="844.9">3343232 3355690 3576423</tspan><tspan x="417.7" y="848.4">100089834</tspan><tspan x="417.7" y="855.9">3356142</tspan><tspan x="439" y="866.6">3346431 3352642 3746164</tspan><tspan x="417.7" y="874.9">3351027</tspan><tspan x="417.7" y="878.4">3346514</tspan><tspan x="417.7" y="888.9">3345176 3346451</tspan><tspan x="465" y="888.9">3346426</tspan><tspan x="439" y="894.9">3351621</tspan><tspan x="477" y="894.9">3350451 3746110</tspan><tspan x="439" y="900.9">3356240 3352640 3746201 3346464</tspan><tspan x="417.7" y="904.9">3343046 3352600 3356046</tspan><tspan x="417.7" y="907.9">3350424</tspan><tspan x="417.7" y="910.9">3352601</tspan><tspan x="417.7" y="913.9">3346212</tspan><tspan x="417.7" y="916.9">3353406 3352641 3346016 3746432</tspan><tspan x="417.7" y="920.4">3352642</tspan><tspan x="417.7" y="923.9">3740661 3346214 3356220</tspan><tspan x="417.7" y="927.4">3346311</tspan><tspan x="417.7" y="930.9">3352661_41:T&gt;C 3356414</tspan><tspan x="417.7" y="934.4">3346014</tspan><tspan x="417.7" y="937.9">3352677</tspan><tspan x="417.7" y="940.9">3350451 3346124 3356029</tspan><tspan x="417.7" y="944.4">3346424</tspan><tspan x="417.7" y="947.9">3346260</tspan><tspan x="417.7" y="950.9">3353405 3352614 3346244 3352426</tspan><tspan x="417.7" y="954.4">3352620</tspan><tspan x="417.7" y="957.9">3346601</tspan><tspan x="417.7" y="961.4">3346245 3356220 3352614 3746204 3352648</tspan><tspan x="417.7" y="964.9">3350427</tspan><tspan x="417.7" y="968.4">3352601_64:A&gt;G</tspan><tspan x="417.7" y="971.9">3346421</tspan><tspan x="417.7" y="978.9">3350464</tspan><tspan x="417.7" y="982.4">3346620</tspan><tspan x="417.7" y="985.9">3352661</tspan><tspan x="417.7" y="993.9">3346124 3356024 3352637 3346167</tspan><tspan x="417.7" y="997.4">3350461 3740361</tspan><tspan x="417.7" y="1000.9">3352614</tspan><tspan x="417.7" y="1004.9">3346220 3356162 3746024 3352641</tspan><tspan x="417.7" y="1008.4">3350410 3746062 3352642</tspan><tspan x="417.7" y="1011.9">3346465</tspan><tspan x="417.7" y="1015.9">3356240 3350464</tspan><tspan x="417.7" y="1021.9">3353405 3352628</tspan><tspan x="417.7" y="1025.9">3352601 3346124</tspan><tspan x="417.7" y="1034.9">3346227</tspan><tspan x="417.7" y="1038.4">3350461 3741621 3346417 3352614</tspan><tspan x="417.7" y="1043.9">3353404 3352646</tspan><tspan x="465" y="1043.9">3346416 3356104</tspan><tspan x="417.7" y="1047.4">3353401 3346247 3350461 3352618</tspan><tspan x="417.7" y="1050.9">3346204</tspan><tspan x="417.7" y="1054.4">3350427</tspan><tspan x="417.7" y="1057.9">3352606</tspan><tspan x="417.7" y="1061.4">3346221</tspan><tspan x="417.7" y="1064.9">3352648</tspan><tspan x="417.7" y="1068.4">3346017</tspan><tspan x="417.7" y="1071.9">3350461</tspan><tspan x="417.7" y="1075.4">3346201</tspan><tspan x="417.7" y="1078.9">3352614</tspan><tspan x="417.7" y="1082.4">3346421</tspan><tspan x="417.7" y="1085.9">3346224</tspan><tspan x="417.7" y="1089.4">3350647</tspan><tspan x="417.7" y="1092.9">3346122 3352604 3346116</tspan><tspan x="417.7" y="1096.9">3352614</tspan><tspan x="417.7" y="1100.9">3346462</tspan><tspan x="417.7" y="1104.9">3350467</tspan><tspan x="417.7" y="1108.9">3346420</tspan><tspan x="417.7" y="1118.9">3352601</tspan><tspan x="454" y="1118.9">3346421 3350461</tspan><tspan x="417.7" y="1131.9">3346211</tspan><tspan x="439" y="1153.9">3350434 3346201</tspan><tspan x="417.7" y="1158.9">3352637</tspan><tspan x="439" y="1164.9">3350464</tspan><tspan x="417.7" y="1170.9">3353407</tspan><tspan x="417.7" y="1186.9">3356421 3352604 3346461 3740461</tspan><tspan x="417.7" y="1208.9">3352601 3346421</tspan><tspan x="417.7" y="1230.9">3356460_41:T&gt;C</tspan><tspan x="417.7" y="1286.9">3352661 3346461</tspan><tspan x="417.7" y="1293.9">3346466 3350461 3356601</tspan><tspan x="417.7" y="1299.4">3352617</tspan><tspan x="439" y="1303.9">3346416 3350462</tspan><tspan x="486" y="1303.9">3346124</tspan><tspan x="417.7" y="1309.4">3352642 3346461</tspan><tspan x="417.7" y="1325.4">3352677 3346120 3350461 3352614 3346264</tspan><tspan x="417.7" y="1328.4">3346417 3356460</tspan><tspan x="417.7" y="1331.4">3352621</tspan><tspan x="417.7" y="1333.9">3350462 3346254 3356424 3352641 3346461</tspan><tspan x="417.7" y="1341.9">3352614</tspan><tspan x="417.7" y="1346.4">3346124</tspan><tspan x="417.7" y="1349.4">3346201</tspan><tspan x="417.7" y="1354.9">3350420 3346211 3746204 3352614 3346421</tspan><tspan x="417.7" y="1358.4">3352641 3346120 3356204</tspan><tspan x="417.7" y="1371.4">3356104 3352641 3346201 3346260</tspan><tspan x="417.7" y="1375.9">3346125</tspan><tspan x="452" y="1375.9">3346416 3352604 3352641</tspan><tspan x="417.7" y="1379.9">3352604 3346127 3350461 3346210 3352624</tspan><tspan x="417.7" y="1400.9">3350427 3346216_41:T&gt;C 3346461</tspan><tspan x="417.7" y="1410.4">3346474</tspan><tspan x="417.7" y="1416.9">3352605 3346127</tspan><tspan x="417.7" y="1420.4">3346112</tspan><tspan x="417.7" y="1423.9">3352604</tspan><tspan x="417.7" y="1427.4">3346465</tspan><tspan x="417.7" y="1430.9">3352614 3346211 3350426 3346161</tspan><tspan x="417.7" y="1434.4">3354617</tspan><tspan x="417.7" y="1437.9">3346124 3352604</tspan><tspan x="417.7" y="1444.9">3352607 3346_14</tspan><tspan x="417.7" y="1459.9">3346467</tspan><tspan x="417.7" y="1465.9">3352602 3346461 3741224 3352614 3346421 3346220</tspan><tspan x="417.7" y="1469.4">3356410 3346124 3352606 3346420 3352614</tspan><tspan x="417.7" y="1472.9">3346211 3346461</tspan><tspan x="417.7" y="1482.9">3350471_40:T&gt;C</tspan><tspan x="417.7" y="1503.9">3346462_41:G&gt;A</tspan><tspan x="417.7" y="1515.9">3346462_41:T&gt;C</tspan><tspan x="417.7" y="1530.9">3346405_41:A&gt;G</tspan><tspan x="417.7" y="1547.9">3346461_41:T&gt;C</tspan></text>
<text class="r"><tspan x="430" y="72.8">3741916</tspan><tspan x="417.7" y="77.8">3737957</tspan><tspan x="432" y="167.8">3352706</tspan><tspan x="417.7" y="217.8">3749549</tspan><tspan x="417.7" y="387.8">3349062</tspan><tspan x="443" y="524.3">3740026</tspan><tspan x="417.7" y="587.8">3358139_64:A&gt;G</tspan><tspan x="417.7" y="636.8">3739672</tspan><tspan x="443" y="674.8">3733695</tspan><tspan x="430" y="714.3">3356023</tspan><tspan x="430" y="739.8">3750010</tspan><tspan x="417.7" y="820.8">3360255</tspan><tspan x="417.7" y="867.5">3352531</tspan><tspan x="443" y="889.8">3350754</tspan><tspan x="417.7" y="895.8">3348211</tspan><tspan x="455" y="895.8">3749313</tspan><tspan x="417.7" y="901.8">3348157</tspan><tspan x="417.7" y="990.8">3749105</tspan><tspan x="443" y="1016.8">3739758</tspan><tspan x="443" y="1022.8">3352969</tspan><tspan x="417.7" y="1032.5">3601937</tspan><tspan x="443" y="1044.8">3576205</tspan><tspan x="432" y="1119.8">3357621</tspan><tspan x="417.7" y="1126.8">3740612</tspan><tspan x="417.7" y="1136.3">3346157</tspan><tspan x="417.7" y="1141.8">3348240</tspan><tspan x="417.7" y="1154.8">3741734</tspan><tspan x="417.7" y="1165.8">3731148</tspan><tspan x="417.7" y="1304.8">3345570</tspan><tspan x="465" y="1304.8">3749300</tspan><tspan x="417.7" y="1338.5">3349607</tspan><tspan x="431" y="1342.8">3739426</tspan><tspan x="430" y="1376.8">3362697</tspan><tspan x="417.7" y="1384.5">3732984</tspan></text>
<text x="417.7" y="735.5" font-family="Liberation Sans, Arial, sans-serif" font-size="5.5" font-weight="bold" fill="#d81bc8">Ddw4</text>
</g>

<g id="connectors">
<path class="rc" d="M236.5 584L385.5 81M236.5 588L385.5 77M236.5 584L385.5 1023M236.5 614L385.5 713M236.5 614L385.5 735M236.5 666L385.5 216M236.5 682L385.5 866M236.5 696L385.5 166M236.5 721L385.5 677M236.5 721L385.5 1346M236.5 729L385.5 1031M236.5 768L385.5 388M236.5 788L385.5 896M236.5 799L385.5 819M236.5 837L385.5 1134M236.5 845L385.5 1340M236.5 853L385.5 972M236.5 866L385.5 896M236.5 860L385.5 890M236.5 876L385.5 1043M236.5 889L385.5 1148M236.5 900L385.5 586M236.5 900L385.5 635M236.5 900L385.5 524M236.5 900L385.5 1140M236.5 969L385.5 1375M236.5 975L385.5 1134M236.5 988L385.5 1095M236.5 995L385.5 1095M236.5 1010L385.5 1023M236.5 1033L385.5 1381M236.5 1062L385.5 1306"/>
</g>

<g id="dots-left">
<circle class="dot" cx="236.5" cy="584" r="5.8"/>
<circle class="dot" cx="236.5" cy="614" r="5.8"/>
<circle class="dot" cx="236.5" cy="666" r="5.6"/>
<circle class="dot" cx="236.5" cy="682" r="5.6"/>
<circle class="dot" cx="236.5" cy="696" r="5.6"/>
<circle class="dot" cx="236.5" cy="721" r="5.6"/>
<circle class="dot" cx="236.5" cy="729" r="5.6"/>
<circle class="dot" cx="236.5" cy="768" r="5.6"/>
<circle class="dot" cx="236.5" cy="788" r="5.6"/>
<circle class="dot" cx="236.5" cy="799" r="5.6"/>
<circle class="dot" cx="236.5" cy="837" r="5.6"/>
<circle class="dot" cx="236.5" cy="845" r="5.6"/>
<circle class="dot" cx="236.5" cy="853" r="5.6"/>
<circle class="dot" cx="236.5" cy="866" r="5.6"/>
<circle class="dot" cx="236.5" cy="876" r="5.6"/>
<circle class="dot" cx="236.5" cy="889" r="5.6"/>
<circle class="dot" cx="236.5" cy="900" r="5.6"/>
<circle class="dot" cx="236.5" cy="969" r="5.6"/>
<circle class="dot" cx="236.5" cy="975" r="5.6"/>
<circle class="dot" cx="236.5" cy="988" r="5.6"/>
<circle class="dot" cx="236.5" cy="995" r="5.6"/>
<circle class="dot" cx="236.5" cy="1010" r="5.6"/>
<circle class="dot" cx="236.5" cy="1033" r="5.6"/>
<circle class="dot" cx="236.5" cy="1062" r="5.6"/>
</g>

<g id="dots-middle">
<circle class="dot" cx="385.5" cy="76" r="5.3"/>
<circle class="dot" cx="385.5" cy="81" r="5.3"/>
<circle class="dot" cx="385.5" cy="166" r="5.3"/>
<circle class="dot" cx="385.5" cy="216" r="5.3"/>
<circle class="dot" cx="385.5" cy="388" r="5.3"/>
<circle class="dot" cx="385.5" cy="524" r="5.3"/>
<circle class="dot" cx="385.5" cy="586" r="5.3"/>
<circle class="dot" cx="385.5" cy="635" r="5.3"/>
<circle class="dot" cx="385.5" cy="677" r="5.3"/>
<circle class="dot" cx="385.5" cy="713" r="5.3"/>
<circle class="dot" cx="385.5" cy="735" r="5.3"/>
<circle class="dot" cx="385.5" cy="819" r="5.3"/>
<circle class="dot" cx="385.5" cy="866" r="5.3"/>
<circle class="dot" cx="385.5" cy="896" r="5.3"/>
<circle class="dot" cx="385.5" cy="972" r="5.3"/>
<circle class="dot" cx="385.5" cy="1023" r="5.3"/>
<circle class="dot" cx="385.5" cy="1031" r="5.3"/>
<circle class="dot" cx="385.5" cy="1043" r="5.3"/>
<circle class="dot" cx="385.5" cy="1095" r="5.3"/>
<circle class="dot" cx="385.5" cy="1134" r="5.3"/>
<circle class="dot" cx="385.5" cy="1140" r="5.3"/>
<circle class="dot" cx="385.5" cy="1148" r="5.3"/>
<circle class="dot" cx="385.5" cy="1306" r="5.3"/>
<circle class="dot" cx="385.5" cy="1340" r="5.3"/>
<circle class="dot" cx="385.5" cy="1346" r="5.3"/>
<circle class="dot" cx="385.5" cy="1375" r="5.3"/>
<circle class="dot" cx="385.5" cy="1381" r="5.3"/>
</g>

<g id="zoom-guides">
<path fill="none" stroke="#111" stroke-width="1.3" d="M467.5 662L632 498M471 832L632 1117"/>
</g>

<g id="zoom-panel">
<path class="pl" d="M632.3 498V1117M697.3 498V1117"/>
<path class="pl" d="M635 531.7H697L728.3 532.7M635 534H697L728.3 540.7M635 536H693L728.3 553.3M729.3 513V524M635 579H728.3M729.3 575.5V583M635 599.3H697L728.3 596.7M635 604.3H697L728.3 607.7M729.3 604V611.5M635 663.3H697M729.3 654.5V664.5M635 665H697L728.3 673.3M635 668.3H697L728.3 682M635 676.7H697L728.3 690.7M729.3 688V694M635 689.3H697L728.3 708M729.3 698V715M635 702H697L728.3 721M729.3 717.5V724M635 715H697L728.3 733M729.3 741.5V754M635 753.3H697L728.3 762M635 792.3H728.3M635 851H728.3M729.3 847.5V855M635 864.3H728.3M635 949.3H697L728.3 940.7M729.3 935V950M635 952.7H697L728.3 958.7M635 961.7H697L728.3 967.7M729.3 963.5V970.5M635 982.7H697L728.3 977.3M729.3 974V981M635 1000H693L728.3 987.3M635 1012.3H693L728.3 996.7M729.3 993.5V1000M635 1029.3H693L728.3 1008.7M729.3 1005.5V1013M729.3 1019V1030.5M635 1042.7H697L728.3 1038.3M635 1046.7H728.3M635 1059.3H697L728.3 1055.3M635 1072H697L728.3 1068.3M729.3 1065.5V1072.5M635 1076H697L728.3 1077.5M729.3 1074.5V1081M635 1094H697L728.3 1088M729.3 1085V1101.5M635 1102.7H697L728.3 1108.3M697 1116L722 1117"/>
<path class="pr" d="M697 531L728.3 514M697 663.3L728.3 655.3M635 736.7H697L728.3 746M635 1038.3H693L728.3 1020.7"/>
<text class="pt" x="733.3" y="521.5">100195373 3740344</text>
<text class="pb" x="821.7" y="523.3">3733695</text>
<text class="pt" x="895" y="521.5">3347176</text>
<text class="pt" x="733.3" y="536.5">3732759</text>
<text class="pt" x="733.3" y="544.9">100188190</text>
<text class="pt" x="733.3" y="557.5">3346432</text>
<text class="pt" x="733.3" y="582.9">3346094 3343462</text>
<text class="pt" x="733.3" y="599.9">3352526</text>
<text class="pt" x="733.3" y="610.9">3342712 100190448 3350950</text>
<text class="pt" x="733.3" y="660.9">3595978</text>
<text class="pb" x="773.3" y="662.7">3356023</text>
<text class="pt" x="845" y="660.9">3733442 3731008</text>
<text class="pt" x="733.3" y="676.5">3346822</text>
<text class="pt" x="733.3" y="685.2">3343174</text>
<text class="pt" x="733.3" y="693.9">3733181 3362682</text>
<text class="pt" x="733.3" y="705.9" textLength="210" lengthAdjust="spacing">100152652 3357589 100087332 3352212 3740994</text>
<text class="pt" x="733.3" y="714.9">3356946 3730596 100145379</text>
<text class="pt" x="733.3" y="723.2">100111039 3738010</text>
<text x="731.7" y="740" font-family="Liberation Sans, Arial, sans-serif" font-size="20" font-weight="bold" fill="#cc1ab8">Ddw4</text>
<text class="pt" x="733.3" y="752.5">3358415</text>
<text class="pb" x="772.7" y="755">3750010</text>
<text class="pt" x="846.7" y="752.5">3731327 3360369</text>
<text class="pt" x="733.3" y="764.9">3593304</text>
<text class="pt" x="733.3" y="795.9">3350494</text>
<text class="pt" x="733.3" y="854.9">3741439 3907025</text>
<text class="pt" x="733.3" y="868.2">3584038</text>
<text class="pt" x="733.3" y="939.9" textLength="226" lengthAdjust="spacingAndGlyphs">3352606 3351224_17:T&gt;C 3598587 3588666 3348161</text>
<text class="pt" x="733.3" y="948.9">3737468 3904630</text>
<text class="pt" x="733.3" y="961.5">3581785</text>
<text class="pt" x="733.3" y="969.9">100020825 3733675</text>
<text class="pt" x="733.3" y="980.5">3356427 3730943 3735033 3356289</text>
<text class="pt" x="733.3" y="990.9">3346980</text>
<text class="pt" x="733.3" y="999.9">100000185 100003115 3352685</text>
<text class="pt" x="733.3" y="1012.5">3731967 3905486 3360604</text>
<text class="pb" x="733.3" y="1029.3">3360255</text>
<text class="pt" x="806.7" y="1027.5">3354607 3353121 3345761</text>
<text class="pt" x="733.3" y="1042.2">3739795</text>
<text class="pt" x="733.3" y="1050.9">3351996</text>
<text class="pt" x="733.3" y="1059.2">3345180</text>
<text class="pt" x="733.3" y="1071.5">3359505 100115177 100136104</text>
<text class="pt" x="733.3" y="1079.9">3356060 3354818</text>
<text class="pt" x="733.3" y="1092.2">100200716 3892847 3345876 3741254 3591037</text>
<text class="pt" x="733.3" y="1102.2">3343232 3355690 3576423</text>
<text class="pt" x="733.3" y="1111.5">100089834</text>
</g>
</svg>
